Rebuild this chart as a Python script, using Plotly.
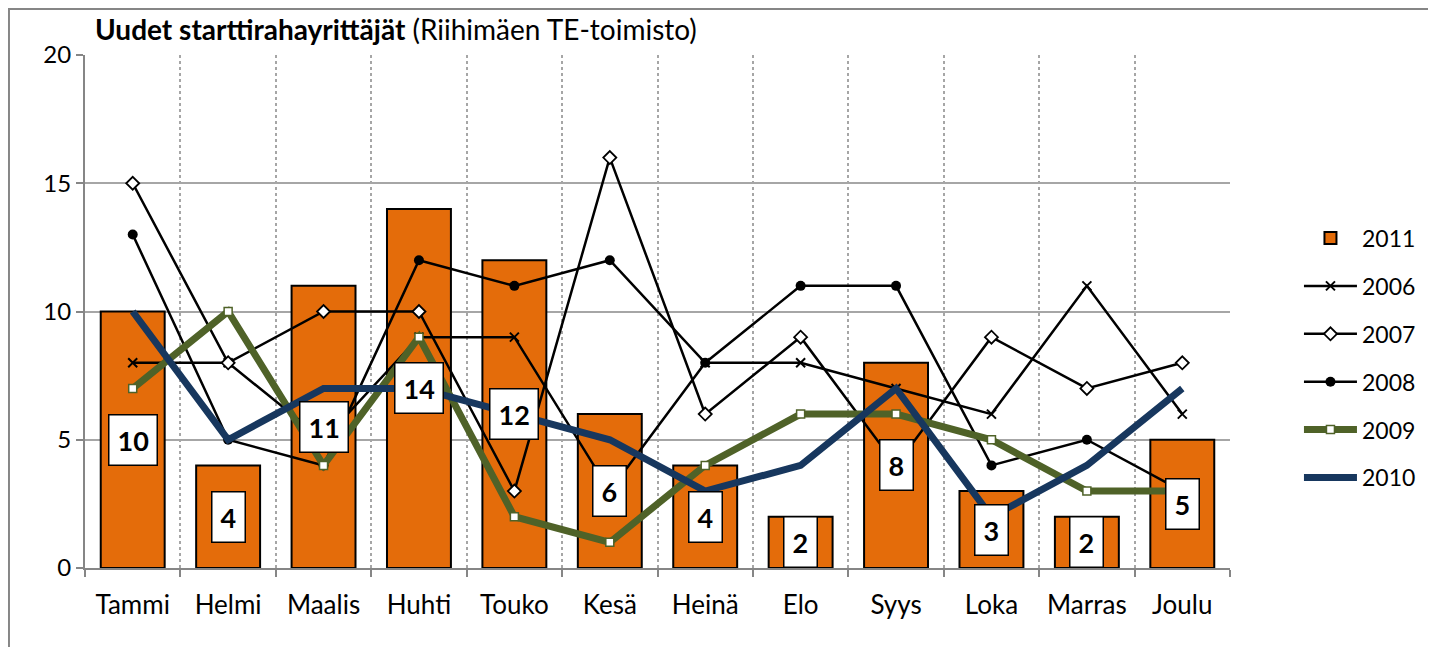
import plotly.graph_objects as go

months = ["Tammi", "Helmi", "Maalis", "Huhti", "Touko", "Kesä", "Heinä", "Elo", "Syys", "Loka", "Marras", "Joulu"]
y2011 = [10, 4, 11, 14, 12, 6, 4, 2, 8, 3, 2, 5]
y2006 = [8, 8, 5, 9, 9, 3, 8, 8, 7, 6, 11, 6]
y2007 = [15, 8, 10, 10, 3, 16, 6, 9, 4, 9, 7, 8]
y2008 = [13, 5, 4, 12, 11, 12, 8, 11, 11, 4, 5, 3]
y2009 = [7, 10, 4, 9, 2, 1, 4, 6, 6, 5, 3, 3]
y2010 = [10, 5, 7, 7, 6, 5, 3, 4, 7, 2, 4, 7]

FONT = "Lato"
fig = go.Figure()

fig.add_trace(go.Bar(x=months, y=y2011, name="2011", legendgroup="g1",
                     marker=dict(color="#E46C0A", line=dict(color="black", width=2))))
fig.add_trace(go.Scatter(x=months, y=y2006, name="2006", legendgroup="g2", mode="lines+markers",
                         line=dict(color="black", width=2.5),
                         marker=dict(symbol="x-thin", size=9, line=dict(color="black", width=2))))
fig.add_trace(go.Scatter(x=months, y=y2007, name="2007", legendgroup="g3", mode="lines+markers",
                         line=dict(color="black", width=2.5),
                         marker=dict(symbol="diamond", size=10, color="white", line=dict(color="black", width=1.8))))
fig.add_trace(go.Scatter(x=months, y=y2008, name="2008", legendgroup="g4", mode="lines+markers",
                         line=dict(color="black", width=2.5),
                         marker=dict(symbol="circle", size=10, color="black")))
fig.add_trace(go.Scatter(x=months, y=y2009, name="2009", legendgroup="g5", mode="lines+markers",
                         line=dict(color="#4F6228", width=7),
                         marker=dict(symbol="square", size=8, color="white", line=dict(color="#4F6228", width=1.5))))
fig.add_trace(go.Scatter(x=months, y=y2010, name="2010", legendgroup="g6", mode="lines",
                         line=dict(color="#17375E", width=7)))

for m, v in zip(months, y2011):
    fig.add_annotation(x=m, y=v / 2, xref="x", yref="y", text="<b>%d</b>" % v, showarrow=False,
                       font=dict(family=FONT, size=27, color="black"),
                       bgcolor="white", bordercolor="black", borderwidth=1.5, borderpad=8)

fig.add_annotation(x=0.007, y=1.05, xref="paper", yref="paper", xanchor="left", yanchor="middle",
                   text="<b>Uudet starttirahayrittäjät</b> (Riihimäen TE-toimisto)", showarrow=False,
                   font=dict(family=FONT, size=28, color="black"))

fig.add_shape(type="rect", xref="paper", yref="paper", x0=-0.0664, x1=1.19, y0=-0.18, y1=1.0897,
              line=dict(color="#868686", width=2), layer="below")

fig.update_layout(
    width=1436, height=647,
    margin=dict(l=77, r=214, t=47, b=87, autoexpand=False),
    paper_bgcolor="white", plot_bgcolor="white",
    bargap=0.33,
    font=dict(family=FONT, size=23, color="black"),
    showlegend=True,
    legend=dict(xref="container", yref="container", x=0.899, y=0.459, xanchor="left", yanchor="middle",
                traceorder="grouped", tracegroupgap=15, itemwidth=53, font=dict(family=FONT, size=23),
                bgcolor="rgba(0,0,0,0)"),
    xaxis=dict(type="category", range=[-0.5, 11.5], automargin=False, showline=True,
               linecolor="#868686", linewidth=2,
               showgrid=True, gridcolor="#A6A6A6", griddash="dot", gridwidth=1.5,
               tickson="boundaries", ticks="outside", ticklen=7, tickcolor="#868686", tickwidth=2,
               ticklabelstandoff=13, tickfont=dict(family=FONT, size=26)),
    yaxis=dict(range=[0, 20], dtick=5, automargin=False, showline=True, linecolor="#868686", linewidth=2,
               showgrid=True, gridcolor="#A6A6A6", gridwidth=2, zeroline=False,
               ticks="outside", ticklen=7, tickcolor="#868686", tickwidth=2,
               ticklabelstandoff=0, tickfont=dict(family=FONT, size=24)),
)

fig.write_html("out.html")
